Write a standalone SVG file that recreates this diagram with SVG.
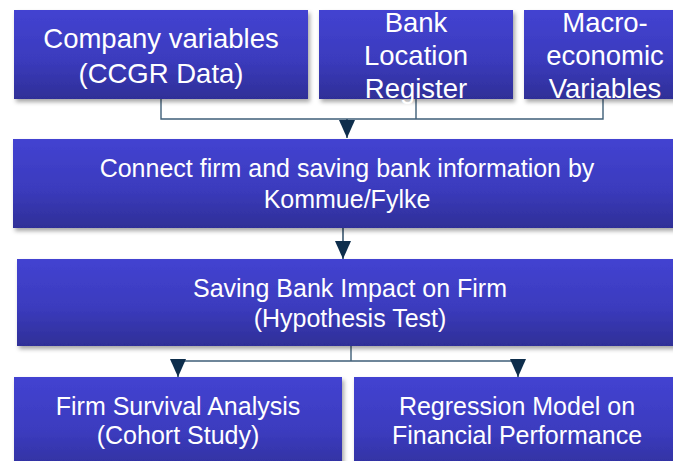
<svg xmlns="http://www.w3.org/2000/svg" width="673" height="461" viewBox="0 0 673 461">
  <defs>
    <linearGradient id="boxFill" x1="0" y1="0" x2="0" y2="1">
      <stop offset="0" stop-color="#4343d1"/>
      <stop offset="0.55" stop-color="#3b3bbe"/>
      <stop offset="1" stop-color="#2f2f97"/>
    </linearGradient>
    <filter id="shadow" x="-5%" y="-10%" width="115%" height="130%">
      <feDropShadow dx="2" dy="3" stdDeviation="2" flood-color="#000" flood-opacity="0.35"/>
    </filter>
    <marker id="arrow" viewBox="0 0 18 16" refX="18" refY="8" markerWidth="18" markerHeight="16" markerUnits="userSpaceOnUse" orient="auto">
      <path d="M0,0 L18,8 L0,16 z" fill="#0e2e4c"/>
    </marker>
  </defs>
  <style>
    .box { fill: url(#boxFill); filter: url(#shadow); }
    .label { fill: #ffffff; font-family: "Liberation Sans", Arial, sans-serif; font-size: 25px; text-anchor: middle; }
    .big { font-size: 27.5px; }
    .wire { fill: none; stroke: #3f5f78; stroke-width: 1.4; }
    .lead { fill: none; stroke: #1f3f5c; stroke-width: 1.4; marker-end: url(#arrow); }
  </style>

  <!-- connectors -->
  <g id="connectors">
    <path class="wire" d="M161,99 V119 H603 V99 M416,99 V119"/>
    <path class="lead" d="M347,119 V138"/>
    <path class="lead" d="M343,228 V259"/>
    <path class="wire" d="M351,346 V361 M178,361 H518"/>
    <path class="lead" d="M178,361 V377"/>
    <path class="lead" d="M518,361 V377"/>
  </g>

  <!-- input sources -->
  <g id="company-variables">
    <rect class="box" x="14" y="10" width="294" height="89"/>
    <text class="label big" x="161" y="48">Company variables</text>
    <text class="label big" x="161" y="83">(CCGR Data)</text>
  </g>
  <g id="bank-location-register">
    <rect class="box" x="319" y="10" width="194" height="89"/>
    <text class="label big" x="416" y="32">Bank</text>
    <text class="label big" x="416" y="65">Location</text>
    <text class="label big" x="416" y="98">Register</text>
  </g>
  <g id="macroeconomic-variables">
    <rect class="box" x="524" y="10" width="170" height="89"/>
    <text class="label big" x="605" y="32">Macro-</text>
    <text class="label big" x="605" y="65">economic</text>
    <text class="label big" x="605" y="98">Variables</text>
  </g>

  <!-- merge step -->
  <g id="connect-information">
    <rect class="box" x="13" y="139" width="680" height="89"/>
    <text class="label" x="347" y="177">Connect firm and saving bank information by</text>
    <text class="label" x="347" y="208">Kommue/Fylke</text>
  </g>

  <!-- hypothesis test -->
  <g id="saving-bank-impact">
    <rect class="box" x="17" y="259" width="676" height="87"/>
    <text class="label" x="350" y="297">Saving Bank Impact on Firm</text>
    <text class="label" x="350" y="327">(Hypothesis Test)</text>
  </g>

  <!-- analyses -->
  <g id="firm-survival">
    <rect class="box" x="14" y="377" width="328" height="100"/>
    <text class="label" x="178" y="415">Firm Survival Analysis</text>
    <text class="label" x="178" y="444">(Cohort Study)</text>
  </g>
  <g id="regression-model">
    <rect class="box" x="354" y="377" width="340" height="100"/>
    <text class="label" x="517" y="415">Regression Model on</text>
    <text class="label" x="517" y="444">Financial Performance</text>
  </g>
</svg>
